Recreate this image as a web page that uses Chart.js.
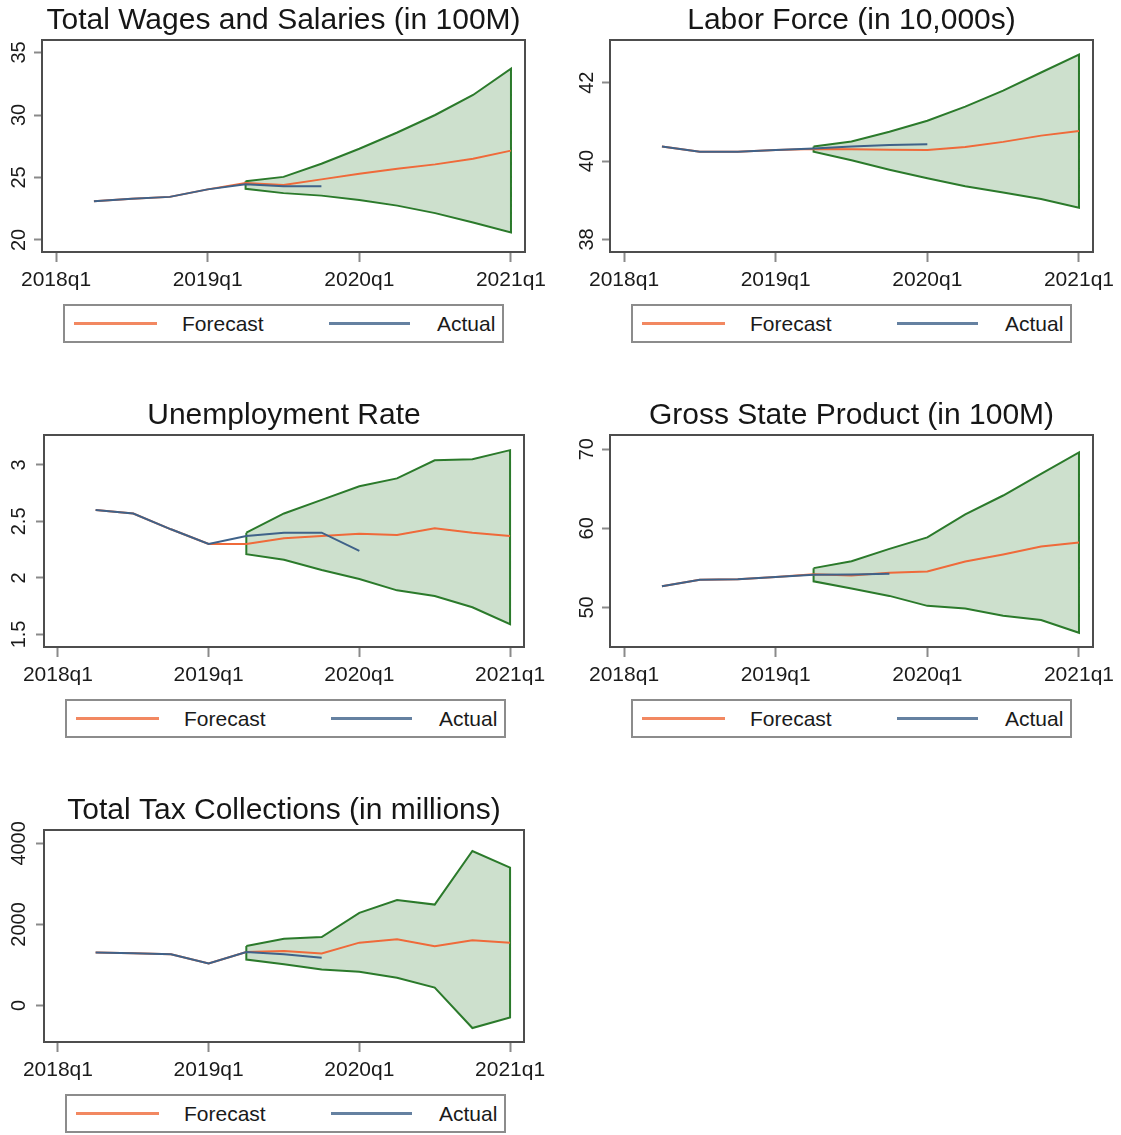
<!DOCTYPE html>
<html>
<head>
<meta charset="utf-8">
<script src="https://cdn.jsdelivr.net/npm/chart.js@4.4.1/dist/chart.umd.min.js"></script>
<style>
  body { margin: 0; background: #fff; width: 1121px; height: 1135px; position: relative; overflow: hidden;
         font-family: "Liberation Sans", Arial, sans-serif; }
  .panel { position: absolute; width: 567px; height: 345px; }
  .panel canvas { position: absolute; left: 0; top: 0; }
  .legend { position: absolute; top: 304px; width: 441px; height: 39px; box-sizing: border-box;
            border: 2px solid #8c8c8c; background: #fff; }
  .legend .key { position: absolute; top: 16px; height: 3px; }
  .legend .lab { position: absolute; top: 5px; font-size: 21px; line-height: 25px; color: #1a1a1a; }
</style>
</head>
<body>
<div class="panel" id="wages"><canvas width="567" height="300"></canvas></div>
<div class="panel" id="labor"><canvas width="567" height="300"></canvas></div>
<div class="panel" id="unemp"><canvas width="567" height="300"></canvas></div>
<div class="panel" id="gsp"><canvas width="567" height="300"></canvas></div>
<div class="panel" id="tax"><canvas width="567" height="300"></canvas></div>
<script>
// quarters with data, and the quarter where the forecast band starts
const quarters = ['2018q2', '2018q3', '2018q4', '2019q1', '2019q2', '2019q3', '2019q4',
                  '2020q1', '2020q2', '2020q3', '2020q4', '2021q1'];
const bandStart = '2019q2';
const xTickLabels = ['2018q1', '2019q1', '2020q1', '2021q1'];

// Total Wages and Salaries (in 100M)
const wagesActual   = [23.1, 23.3, 23.45, 24.05, 24.45, 24.3, 24.3];
const wagesForecast = [23.1, 23.3, 23.45, 24.05, 24.55, 24.4, 24.85, 25.3, 25.7, 26.05, 26.5, 27.15];
const wagesUpper    = [24.7, 25.05, 26.1, 27.3, 28.6, 30.0, 31.6, 33.7];
const wagesLower    = [24.1, 23.75, 23.55, 23.2, 22.75, 22.15, 21.4, 20.6];
const wagesTicks    = [20, 25, 30, 35];

// Labor Force (in 10,000s)
const laborActual   = [40.37, 40.24, 40.24, 40.28, 40.32, 40.37, 40.41, 40.43];
const laborForecast = [40.37, 40.24, 40.24, 40.28, 40.31, 40.3, 40.29, 40.28, 40.36, 40.49, 40.65, 40.77];
const laborUpper    = [40.37, 40.5, 40.75, 41.03, 41.39, 41.8, 42.26, 42.72];
const laborLower    = [40.24, 40.02, 39.78, 39.56, 39.36, 39.2, 39.03, 38.81];
const laborTicks    = [38, 40, 42];

// Unemployment Rate
const unempActual   = [2.6, 2.57, 2.43, 2.3, 2.37, 2.4, 2.4, 2.24];
const unempForecast = [2.6, 2.57, 2.43, 2.3, 2.3, 2.35, 2.37, 2.39, 2.38, 2.44, 2.4, 2.37];
const unempUpper    = [2.4, 2.57, 2.69, 2.81, 2.88, 3.04, 3.05, 3.13];
const unempLower    = [2.21, 2.16, 2.07, 1.99, 1.89, 1.84, 1.74, 1.59];
const unempTicks    = [1.5, 2, 2.5, 3];

// Gross State Product (in 100M)
const gspActual   = [52.67, 53.5, 53.55, 53.84, 54.13, 54.18, 54.26];
const gspForecast = [52.67, 53.5, 53.55, 53.84, 54.2, 54.05, 54.4, 54.55, 55.8, 56.7, 57.7, 58.2];
const gspUpper    = [54.97, 55.85, 57.4, 58.85, 61.77, 64.15, 66.9, 69.6];
const gspLower    = [53.3, 52.4, 51.46, 50.2, 49.87, 48.96, 48.4, 46.8];
const gspTicks    = [50, 60, 70];

// Total Tax Collections (in millions)
const taxActual   = [1306, 1290, 1265, 1037, 1322, 1265, 1176];
const taxForecast = [1306, 1290, 1265, 1037, 1322, 1347, 1282, 1551, 1633, 1461, 1608, 1551];
const taxUpper    = [1469, 1649, 1690, 2286, 2604, 2490, 3812, 3404];
const taxLower    = [1135, 1020, 890, 833, 686, 441, -555, -294];
const taxTicks    = [0, 2000, 4000];

const FONT = '"Liberation Sans", Arial, sans-serif';
const ORANGE = '#ef6a3a';
const NAVY = '#3f6289';
const GREEN = '#2b7a2b';
const BAND = 'rgba(45, 125, 45, 0.24)';
const TICK_LEN = 8;

const qIndex = s => (parseInt(s.slice(0, 4)) - 2018) * 4 + parseInt(s.slice(5)) - 1;

const plotBox = {
  id: 'plotBox',
  afterDatasetsDraw(chart) {
    const { ctx, chartArea: a } = chart;
    ctx.save();
    ctx.strokeStyle = '#4d4d4d';
    ctx.lineWidth = 2;
    ctx.strokeRect(a.left, a.top, a.right - a.left, a.bottom - a.top);
    ctx.restore();
  }
};

function labelPad(labels, dist) {
  const ctx = document.createElement('canvas').getContext('2d');
  ctx.font = '20px ' + FONT;
  const w = Math.max(...labels.map(l => ctx.measureText(l).width));
  return dist - TICK_LEN - w / 2;
}

function drawPanel(id, cfg) {
  const panel = document.getElementById(id);
  panel.style.left = cfg.left + 'px';
  panel.style.top = cfg.top + 'px';
  const xs = quarters.map(qIndex);
  const bandXs = xs.slice(quarters.indexOf(bandStart));
  const pts = (vals, xv) => vals.map((v, i) => ({ x: xv[i], y: v }));
  const outline = pts(cfg.upper, bandXs).concat(pts(cfg.lower, bandXs).reverse());
  outline.push(outline[0]);

  const chart = new Chart(panel.querySelector('canvas'), {
    type: 'line',
    data: {
      datasets: [
        { label: 'Forecast', data: pts(cfg.forecast, xs), borderColor: ORANGE, borderWidth: 2, order: 1 },
        { label: 'Actual', data: pts(cfg.actual, xs), borderColor: NAVY, borderWidth: 2, order: 0 },
        { label: 'band', data: outline, borderColor: GREEN, borderWidth: 2, order: 2 },
        { label: 'upper', data: pts(cfg.upper, bandXs), borderColor: 'transparent', backgroundColor: BAND, fill: '+1', order: 3 },
        { label: 'lower', data: pts(cfg.lower, bandXs), borderColor: 'transparent', order: 4 }
      ]
    },
    options: {
      animation: false,
      responsive: false,
      devicePixelRatio: 1,
      layout: { padding: { left: 0, right: cfg.rightPad, top: 0, bottom: 0 } },
      elements: { point: { radius: 0 }, line: { tension: 0 } },
      plugins: {
        legend: { display: false },
        tooltip: { enabled: false },
        title: {
          display: true, fullSize: false, text: cfg.title, color: '#161616',
          font: { family: FONT, size: 30, weight: 'normal' },
          padding: { top: 3, bottom: 1 }
        }
      },
      scales: {
        x: {
          type: 'linear', min: -0.37, max: 12.37,
          afterBuildTicks: s => { s.ticks = xTickLabels.map(l => ({ value: qIndex(l) })); },
          afterFit: s => { s.height = 48; },
          ticks: {
            callback: v => xTickLabels.find(l => qIndex(l) === v),
            font: { family: FONT, size: 21 }, color: '#1a1a1a', padding: 6,
            maxRotation: 0, autoSkip: false
          },
          grid: { drawOnChartArea: false, tickLength: 10, tickWidth: 2, tickColor: '#8a8a8a' },
          border: { display: false }
        },
        y: {
          min: cfg.yMin, max: cfg.yMax,
          afterBuildTicks: s => { s.ticks = cfg.yTicks.map(v => ({ value: v })); },
          afterFit: s => { s.width = cfg.axisW; },
          ticks: {
            callback: v => String(v),
            font: { family: FONT, size: 20 }, color: '#1a1a1a',
            minRotation: 90, maxRotation: 90, crossAlign: 'center',
            padding: labelPad(cfg.yTicks.map(String), cfg.axisW - 19)
          },
          grid: { drawOnChartArea: false, tickLength: TICK_LEN, tickWidth: 2, tickColor: '#8a8a8a' },
          border: { display: false }
        }
      }
    },
    plugins: [plotBox]
  });

  // legend box under the plot, built from the two named series
  const legend = document.createElement('div');
  legend.className = 'legend';
  legend.style.left = cfg.legendLeft + 'px';
  const slots = [{ key: 9, w: 83, lab: 117 }, { key: 264, w: 81, lab: 372 }];
  chart.data.datasets.slice(0, 2).forEach((ds, i) => {
    const key = document.createElement('div');
    key.className = 'key';
    key.style.left = slots[i].key + 'px';
    key.style.width = slots[i].w + 'px';
    key.style.background = ds.borderColor;
    key.style.opacity = 0.8;
    const lab = document.createElement('div');
    lab.className = 'lab';
    lab.style.left = slots[i].lab + 'px';
    lab.textContent = ds.label;
    legend.appendChild(key);
    legend.appendChild(lab);
  });
  panel.appendChild(legend);
}

drawPanel('wages', { left: 0, top: 0, axisW: 42, rightPad: 42, legendLeft: 63,
  title: 'Total Wages and Salaries (in 100M)', yMin: 19.04, yMax: 36.0, yTicks: wagesTicks,
  actual: wagesActual, forecast: wagesForecast, upper: wagesUpper, lower: wagesLower });
drawPanel('labor', { left: 568, top: 0, axisW: 42, rightPad: 42, legendLeft: 63,
  title: 'Labor Force (in 10,000s)', yMin: 37.68, yMax: 43.09, yTicks: laborTicks,
  actual: laborActual, forecast: laborForecast, upper: laborUpper, lower: laborLower });
drawPanel('unemp', { left: 0, top: 395, axisW: 44, rightPad: 43, legendLeft: 65,
  title: 'Unemployment Rate', yMin: 1.389, yMax: 3.264, yTicks: unempTicks,
  actual: unempActual, forecast: unempForecast, upper: unempUpper, lower: unempLower });
drawPanel('gsp', { left: 568, top: 395, axisW: 42, rightPad: 42, legendLeft: 63,
  title: 'Gross State Product (in 100M)', yMin: 45.0, yMax: 71.8, yTicks: gspTicks,
  actual: gspActual, forecast: gspForecast, upper: gspUpper, lower: gspLower });
drawPanel('tax', { left: 0, top: 790, axisW: 44, rightPad: 43, legendLeft: 65,
  title: 'Total Tax Collections (in millions)', yMin: -900, yMax: 4330, yTicks: taxTicks,
  actual: taxActual, forecast: taxForecast, upper: taxUpper, lower: taxLower });
</script>
</body>
</html>
